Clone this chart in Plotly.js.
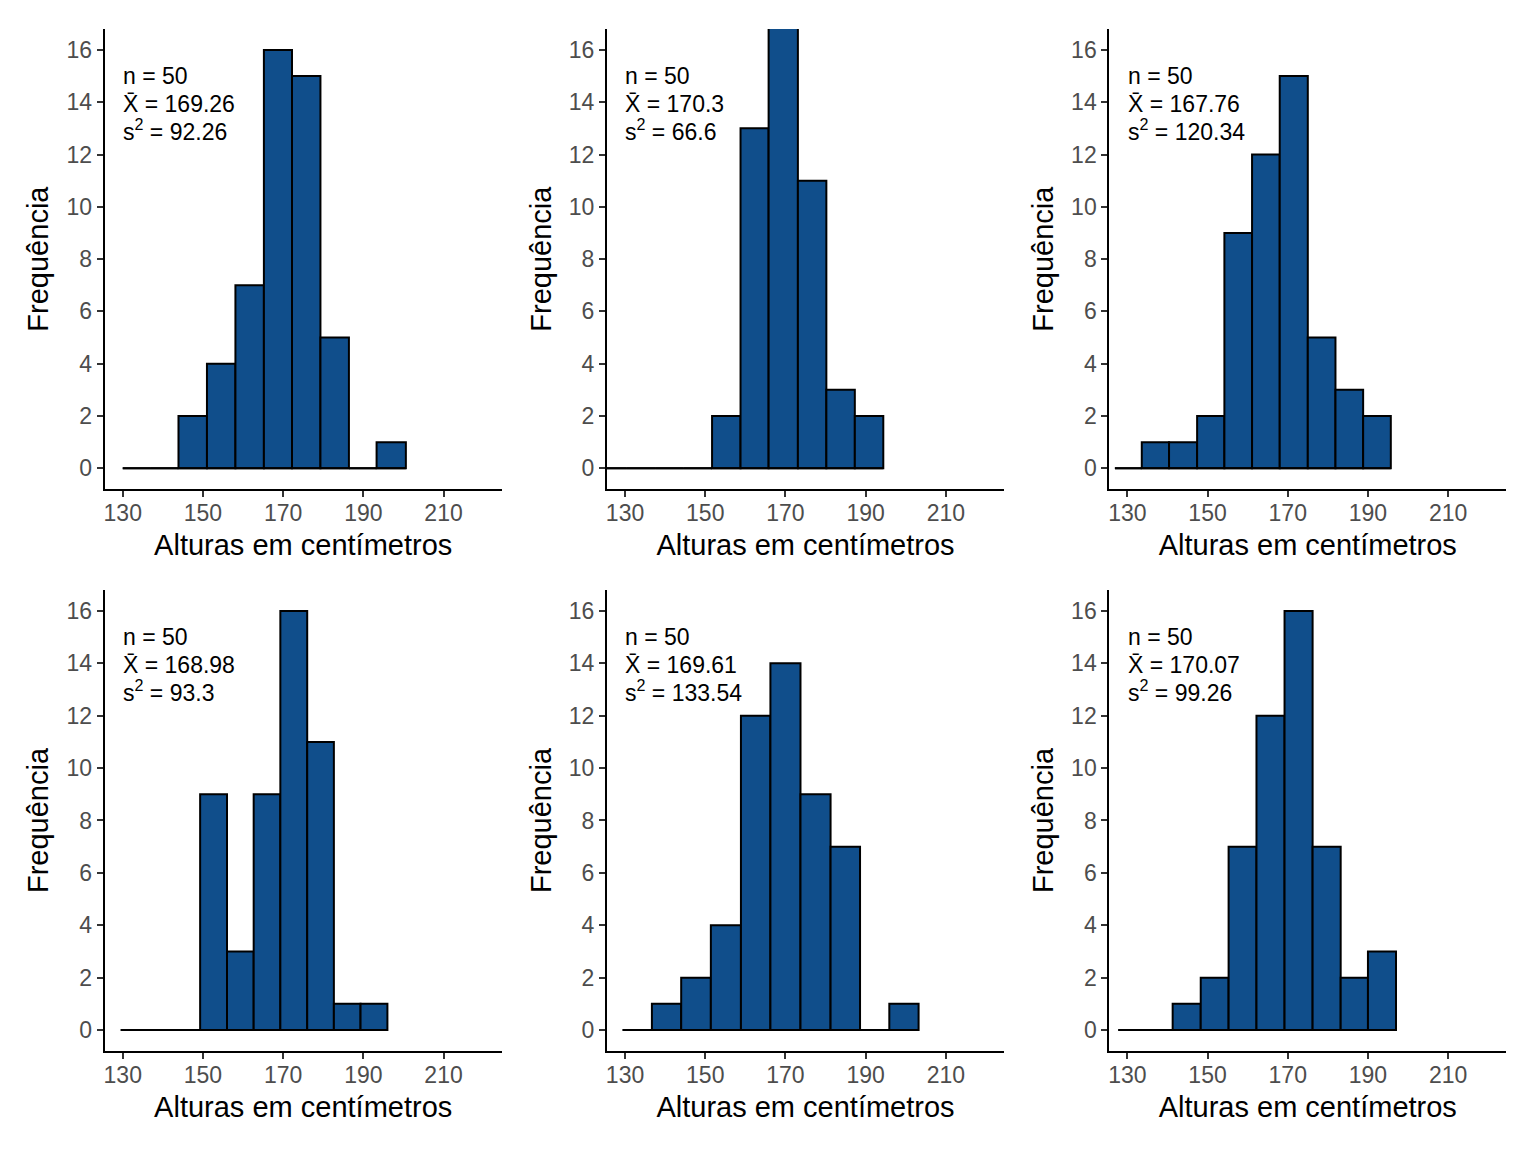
<!DOCTYPE html>
<html>
<head>
<meta charset="utf-8">
<script src="https://cdn.plot.ly/plotly-3.0.1.min.js"></script>
<style>html,body{margin:0;padding:0;background:#fff;}#chart{width:1536px;height:1152px;}</style>
</head>
<body>
<div id="chart"></div>
<script>
const edges1 = [130.0, 137.0, 143.9, 151.0, 158.1, 165.2, 172.2, 179.3, 186.4, 193.3, 200.6];
const counts1 = [0, 0, 2, 4, 7, 16, 15, 5, 0, 1];
const edges2 = [123.2, 130.3, 137.5, 144.6, 151.7, 158.8, 165.8, 173.1, 180.2, 187.3, 194.4];
const counts2 = [0, 0, 0, 0, 2, 13, 19, 11, 3, 2];
const edges3 = [126.9, 133.6, 140.4, 147.4, 154.2, 161.1, 168.0, 175.0, 181.9, 188.8, 195.7];
const counts3 = [0, 1, 1, 2, 9, 12, 15, 5, 3, 2];
const edges4 = [129.5, 136.0, 142.65, 149.3, 156.0, 162.65, 169.3, 176.0, 182.65, 189.3, 196.0];
const counts4 = [0, 0, 0, 9, 3, 9, 16, 11, 1, 1];
const edges5 = [129.4, 136.7, 144.0, 151.4, 158.9, 166.25, 173.75, 181.25, 188.6, 195.9, 203.2];
const counts5 = [0, 1, 2, 4, 12, 14, 9, 7, 0, 1];
const edges6 = [127.75, 134.4, 141.3, 148.3, 155.25, 162.2, 169.2, 176.2, 183.2, 190.0, 197.0];
const counts6 = [0, 0, 1, 2, 7, 12, 16, 7, 2, 3];

const sampleN = [50, 50, 50, 50, 50, 50];
const means = ["169.26", "170.3", "167.76", "168.98", "169.61", "170.07"];
const variances = ["92.26", "66.6", "120.34", "93.3", "133.54", "99.26"];

const xTicks = [130, 150, 170, 190, 210];
const yTicks = [0, 2, 4, 6, 8, 10, 12, 14, 16];
const xLabel = "Alturas em centímetros";
const yLabel = "Frequência";

const allEdges = [edges1, edges2, edges3, edges4, edges5, edges6];
const allCounts = [counts1, counts2, counts3, counts4, counts5, counts6];

const FONT = "Liberation Sans, Arial, Helvetica, sans-serif";
const xDomains = [[0.06816, 0.32663], [0.39518, 0.65365], [0.72220, 0.98066]];
const yDomains = [[0.57535, 0.97483], [0.08767, 0.48785]];

const traces = [];
const layout = {
  width: 1536, height: 1152,
  margin: {l: 0, r: 0, t: 0, b: 0},
  paper_bgcolor: "#ffffff", plot_bgcolor: "#ffffff",
  showlegend: false,
  font: {family: FONT, color: "#000000"},
  annotations: [],
  bargap: 0
};

for (let p = 0; p < 6; p++) {
  const e = allEdges[p], c = allCounts[p];
  const sfx = p === 0 ? "" : String(p + 1);
  const xa = "x" + sfx, ya = "y" + sfx;
  const mids = [], widths = [];
  for (let i = 0; i < c.length; i++) {
    mids.push((e[i] + e[i + 1]) / 2);
    widths.push(e[i + 1] - e[i]);
  }
  // baseline for empty bins
  traces.push({
    type: "scatter", mode: "lines", x: e, y: e.map(() => 0),
    line: {color: "#000000", width: 2}, xaxis: xa, yaxis: ya, hoverinfo: "skip"
  });
  traces.push({
    type: "bar", x: mids, y: c, width: widths,
    marker: {color: "#104E8B", line: {color: "#000000", width: 2}},
    xaxis: xa, yaxis: ya
  });
  const col = p % 3, row = Math.floor(p / 3);
  const axCommon = {
    showgrid: false, zeroline: false, showline: true, linecolor: "#000000", linewidth: 2,
    ticks: "outside", ticklen: 6, tickwidth: 2, tickcolor: "#333333",
    tickfont: {family: FONT, size: 23, color: "#4D4D4D"}, automargin: false, fixedrange: true
  };
  layout["xaxis" + sfx] = Object.assign({}, axCommon, {
    domain: xDomains[col], anchor: ya, range: [125.5, 224.5],
    tickmode: "array", tickvals: xTicks, ticktext: xTicks.map(String),
    ticklabelstandoff: -4,
    title: {text: xLabel, font: {family: FONT, size: 29, color: "#000000"}, standoff: 10}
  });
  layout["yaxis" + sfx] = Object.assign({}, axCommon, {
    domain: yDomains[row], anchor: xa, range: [-0.8, 16.8],
    tickmode: "array", tickvals: yTicks, ticktext: yTicks.map(String),
    title: {text: yLabel, font: {family: FONT, size: 29, color: "#000000"}, standoff: 9}
  });
  const lines = ["n = " + sampleN[p], "X\u0304 = " + means[p], "s<sup>2</sup> = " + variances[p]];
  const ys = [15.0, 13.93, 12.95];
  for (let k = 0; k < 3; k++) {
    layout.annotations.push({
      xref: xa, yref: ya, x: 129.6, y: ys[k], text: lines[k], showarrow: false,
      xanchor: "left", yanchor: "middle", align: "left",
      font: {family: FONT, size: 23, color: "#000000"}
    });
  }
}

Plotly.newPlot("chart", traces, layout, {staticPlot: true});
</script>
</body>
</html>
